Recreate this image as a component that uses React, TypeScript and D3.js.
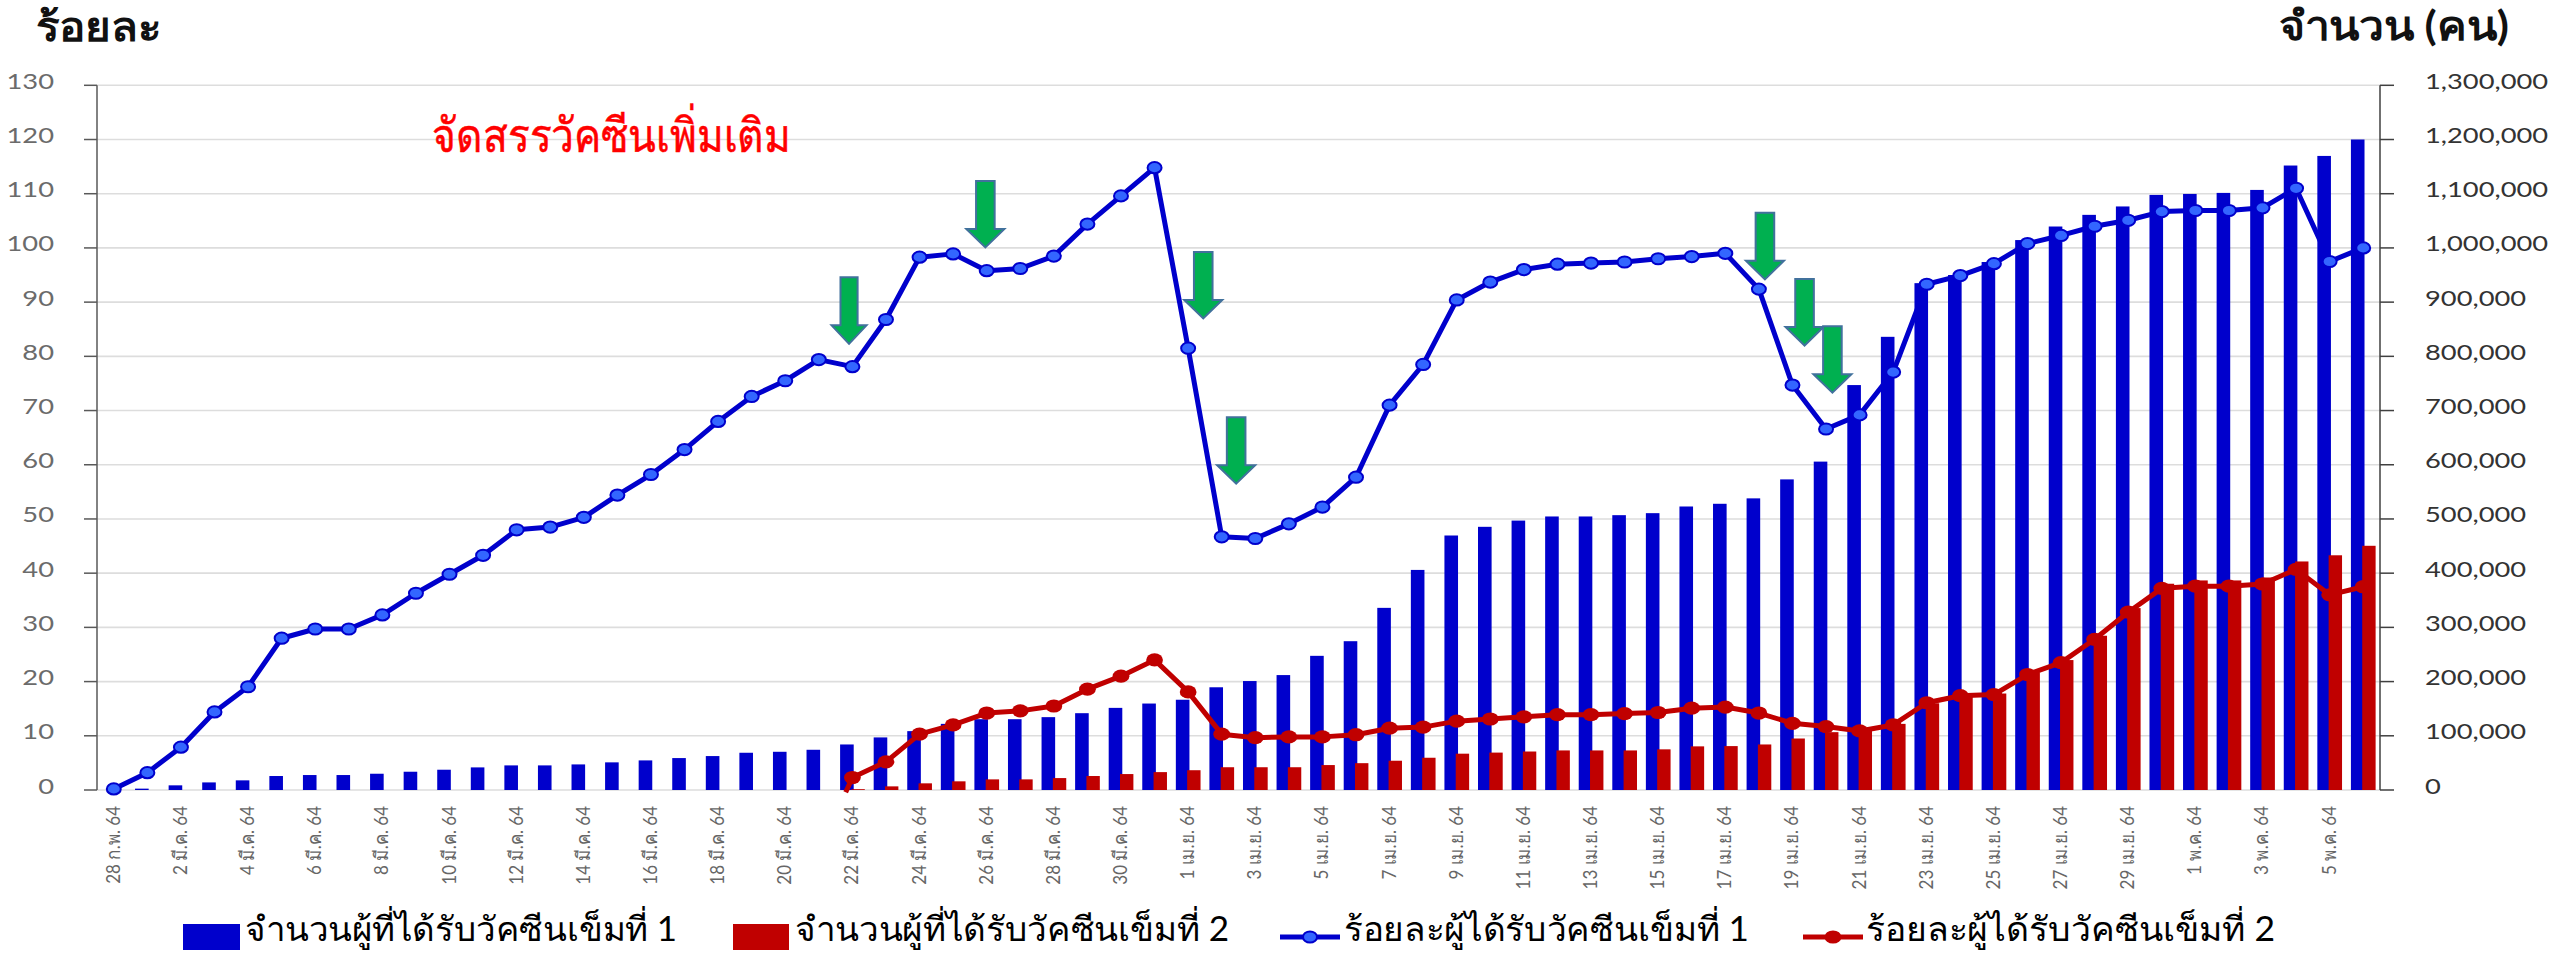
import React from "react";
import * as d3 from "d3";

const W = 2560, H = 954;
const LEFT = 97, RIGHT = 2380, TOP = 85.3, BOTTOM = 790;

const dayLabels = [
  "28 ก.พ. 64",
  ...d3.range(1, 32).map((d) => `${d} มี.ค. 64`),
  ...d3.range(1, 31).map((d) => `${d} เม.ย. 64`),
  ...d3.range(1, 7).map((d) => `${d} พ.ค. 64`),
];

const dose1Counts = [0, 2500, 8600, 14000, 17800, 25800, 27600, 27600, 30000, 33700, 37400, 41700, 45400, 45400, 47200, 51000, 54600, 58900, 62600, 68700, 70500, 74200, 84000, 97000, 108600, 122000, 130600, 130600, 134400, 141700, 151500, 159500, 166500, 189500, 201000, 212000, 247500, 274500, 336000, 406000, 469500, 485500, 497000, 504600, 504600, 507000, 510700, 523000, 528000, 538000, 573000, 605800, 747000, 836000, 935000, 950000, 974000, 1014500, 1039500, 1061000, 1076500, 1097800, 1099600, 1101500, 1107000, 1152000, 1169700, 1200000];

const dose2Counts = [0, 0, 0, 0, 0, 0, 0, 0, 0, 0, 0, 0, 0, 0, 0, 0, 0, 0, 0, 0, 0, 0, 1500, 6700, 12300, 16000, 19600, 19600, 22000, 25800, 29400, 33000, 36500, 42000, 42000, 42000, 46000, 49500, 54000, 59500, 67000, 69000, 71000, 73000, 73000, 73000, 75000, 80500, 81000, 84000, 95000, 106700, 111000, 122000, 160000, 174500, 178000, 217000, 239700, 284600, 335600, 380500, 386600, 386600, 392000, 421600, 433000, 450500];

const dose1Pct = [0.2, 3.2, 7.9, 14.4, 19.05, 28, 29.7, 29.7, 32.3, 36.3, 39.8, 43.3, 48, 48.5, 50.3, 54.4, 58.2, 62.8, 68, 72.6, 75.5, 79.4, 78.1, 86.8, 98.3, 98.9, 95.8, 96.2, 98.5, 104.4, 109.6, 114.8, 81.5, 46.7, 46.4, 49.1, 52.2, 57.7, 71, 78.5, 90.4, 93.7, 96, 97, 97.2, 97.4, 98, 98.4, 99, 92.4, 74.7, 66.6, 69.2, 77.1, 93.3, 94.9, 97.1, 100.8, 102.3, 104, 105.1, 106.7, 106.9, 106.9, 107.4, 111, 97.5, 100];

const dose2Pct: (number | null)[] = [null, null, null, null, null, null, null, null, null, null, null, null, null, null, null, null, null, null, null, null, null, null, 2.3, 5.2, 10.3, 12, 14.2, 14.6, 15.5, 18.6, 21, 24, 18.1, 10.3, 9.65, 9.8, 9.8, 10.2, 11.4, 11.6, 12.7, 13.1, 13.5, 13.9, 13.9, 14.1, 14.3, 15.1, 15.3, 14.2, 12.3, 11.7, 10.9, 12, 16.1, 17.4, 17.6, 21.3, 23.5, 27.8, 32.8, 37.2, 37.6, 37.6, 38, 40.7, 36, 37.5];

const pctTicks = d3.range(0, 131, 10);
const countTicks = d3.range(0, 1300001, 100000);

// arrow annotations: tip given as [day index, percent]
const arrowTips: [number, number][] = [
  [21.9, 82.3], [25.96, 100.1], [32.45, 87], [33.43, 56.5], [49.18, 94.2], [50.36, 82], [51.19, 73.3],
];

const seriesNames = [
  "จำนวนผู้ที่ได้รับวัคซีนเข็มที่ 1",
  "จำนวนผู้ที่ได้รับวัคซีนเข็มที่ 2",
  "ร้อยละผู้ได้รับวัคซีนเข็มที่ 1",
  "ร้อยละผู้ได้รับวัคซีนเข็มที่ 2",
];

const BLUE = "#0000CC", RED = "#C00000";
const FONT = "Lato, 'Noto Sans', sans-serif";

export default function App() {
  const x = d3.scaleBand<number>().domain(d3.range(dayLabels.length)).range([LEFT, RIGHT]);
  const cx = (i: number) => LEFT + (i + 0.5) * x.step();
  const yPct = d3.scaleLinear().domain([0, 130]).range([BOTTOM, TOP]);
  const yCount = d3.scaleLinear().domain([0, 1300000]).range([BOTTOM, TOP]);
  const line = d3
    .line<number | null>()
    .defined((d) => d !== null)
    .x((_, i) => cx(i))
    .y((d) => yPct(d as number));

  const legendText = (s: string, x0: number, w: number) => (
    <text x={x0} y={941} fontSize={34} fill="#000" textLength={w} lengthAdjust="spacingAndGlyphs" fontFamily={FONT}>{s}</text>
  );

  return (
    <svg width={W} height={H} style={{ position: "absolute", left: 0, top: 0, background: "#fff" }} fontFamily={FONT}>
      {pctTicks.map((t) => (
        <line key={t} x1={LEFT} x2={RIGHT} y1={yPct(t)} y2={yPct(t)} stroke="#DDDDDD" strokeWidth={1.6} />
      ))}
      <line x1={LEFT} x2={LEFT} y1={TOP} y2={BOTTOM} stroke="#595959" strokeWidth={1.5} />
      <line x1={RIGHT} x2={RIGHT} y1={TOP} y2={BOTTOM} stroke="#404040" strokeWidth={1.5} />
      {pctTicks.map((t) => (
        <g key={t}>
          <line x1={84} x2={LEFT} y1={yPct(t)} y2={yPct(t)} stroke="#595959" strokeWidth={1.5} />
          <text transform={`translate(54,${yPct(t) + 3.5}) scale(1.3,1)`} textAnchor="end" fontSize={21} fill="#6b6b6b">{t}</text>
        </g>
      ))}
      {countTicks.map((t) => (
        <g key={t}>
          <line x1={RIGHT} x2={2394} y1={yCount(t)} y2={yCount(t)} stroke="#404040" strokeWidth={1.5} />
          <text transform={`translate(2425,${yCount(t) + 3.5}) scale(1.3,1)`} fontSize={21} fill="#333">{d3.format(",")(t)}</text>
        </g>
      ))}
      {dayLabels.map((s, i) =>
        i % 2 === 0 ? (
          <text key={s} transform={`translate(${cx(i) + 6},806) rotate(-90) scale(1,1.12)`} textAnchor="end" fontSize={17} fill="#666">{s}</text>
        ) : null
      )}
      {dose1Counts.map((v, i) => (
        <rect key={i} x={cx(i) - 12.3} width={13.6} y={yCount(v)} height={BOTTOM - yCount(v)} fill={BLUE} />
      ))}
      {dose2Counts.map((v, i) => (
        <rect key={i} x={cx(i) - 1} width={13.4} y={yCount(v)} height={BOTTOM - yCount(v)} fill={RED} />
      ))}
      <path d={line(dose1Pct) ?? ""} fill="none" stroke={BLUE} strokeWidth={5} strokeLinejoin="round" />
      {dose1Pct.map((v, i) => (
        <ellipse key={i} cx={cx(i)} cy={yPct(v)} rx={7} ry={5.6} fill="#3366FF" stroke={BLUE} strokeWidth={2} />
      ))}
      <line x1={cx(21.8)} y1={yPct(-0.4)} x2={cx(22)} y2={yPct(2.3)} stroke={RED} strokeWidth={5} />
      <path d={line(dose2Pct) ?? ""} fill="none" stroke={RED} strokeWidth={5} strokeLinejoin="round" />
      {dose2Pct.map((v, i) =>
        v === null ? null : <ellipse key={i} cx={cx(i)} cy={yPct(v)} rx={8.4} ry={6.6} fill={RED} />
      )}
      {arrowTips.map(([d, p], i) => {
        const tx = cx(d), ty = yPct(p);
        const f = i === 0 ? 0.92 : 1;
        const s = 9.3 * f, w = 19 * f;
        const headY = ty - 18.5, topY = ty - 66.5;
        const pts = [[tx - s, topY], [tx + s, topY], [tx + s, headY], [tx + w, headY], [tx, ty], [tx - w, headY], [tx - s, headY]];
        return <polygon key={i} points={pts.map((p) => p.join(",")).join(" ")} fill="#00B050" stroke="#41719C" strokeWidth={2} />;
      })}
      <text x={36} y={41} fontSize={40} fontWeight={700} fill="#111" textLength={125} lengthAdjust="spacingAndGlyphs">ร้อยละ</text>
      <text x={2279} y={40} fontSize={40} fontWeight={700} fill="#111" textLength={230} lengthAdjust="spacingAndGlyphs">จำนวน (คน)</text>
      <text x={432} y={152} fontSize={47} fontWeight={400} fill="#FF0000" stroke="#FF0000" strokeWidth={0.5} textLength={359} lengthAdjust="spacingAndGlyphs">จัดสรรวัคซีนเพิ่มเติม</text>

      <rect x={183} y={924} width={57} height={26} fill={BLUE} />
      {legendText(seriesNames[0], 245, 432)}
      <rect x={733} y={924} width={56} height={26} fill={RED} />
      {legendText(seriesNames[1], 795, 434)}
      <line x1={1280} x2={1340} y1={937} y2={937} stroke={BLUE} strokeWidth={5} />
      <ellipse cx={1310} cy={937} rx={7} ry={5.6} fill="#3366FF" stroke={BLUE} strokeWidth={2} />
      {legendText(seriesNames[2], 1344, 405)}
      <line x1={1803} x2={1863} y1={937} y2={937} stroke={RED} strokeWidth={5} />
      <ellipse cx={1833} cy={937} rx={8.4} ry={6.6} fill={RED} />
      {legendText(seriesNames[3], 1866, 409)}
    </svg>
  );
}
